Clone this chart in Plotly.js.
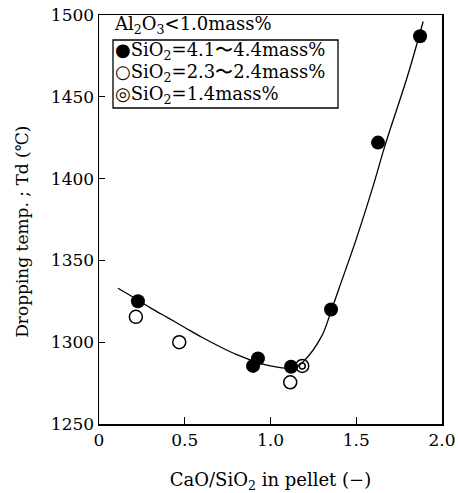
<!DOCTYPE html>
<html>
<head>
<meta charset="utf-8">
<script src="https://cdn.plot.ly/plotly-3.0.1.min.js"></script>
<style>html,body{margin:0;padding:0;background:#fff;}#chart{width:458px;height:493px;}</style>
</head>
<body>
<div id="chart"></div>
<script>
// Data
var highX = [0.227, 0.898, 0.927, 1.12, 1.353, 1.627, 1.872];
var highY = [1325, 1285.5, 1290, 1285, 1320, 1422, 1487];
var midX = [0.215, 0.468, 1.115];
var midY = [1315.5, 1300, 1275.5];
var lowX = [1.185];
var lowY = [1285.5];
var curveX = [0.11, 0.2, 0.3, 0.4, 0.5, 0.6, 0.7, 0.8, 0.9, 1.0, 1.1, 1.15, 1.2, 1.3, 1.35, 1.4, 1.5, 1.6, 1.667, 1.8, 1.89];
var curveY = [1333, 1327.5, 1321, 1315, 1309, 1303, 1297.5, 1292.5, 1288.5, 1285.5, 1284, 1285, 1289, 1304, 1318, 1333, 1363, 1396, 1420, 1463, 1496];
var xTickVals = [0, 0.5, 1.0, 1.5, 2.0];
var xTickText = ["0", "0.5", "1.0", "1.5", "2.0"];
var yTickVals = [1250, 1300, 1350, 1400, 1450, 1500];
var legendTitle = "Al<sub>2</sub>O<sub>3</sub>&lt;1.0mass%";
var legendLabels = ["\u25CFSiO<sub>2</sub>=4.1\u301C4.4mass%", "\u25CBSiO<sub>2</sub>=2.3\u301C2.4mass%", "\u25CESiO<sub>2</sub>=1.4mass%"];

var serif = "DejaVu Serif, Liberation Serif, serif";
var traces = [
  {x: curveX, y: curveY, mode: "lines", line: {color: "#000", width: 1.3, shape: "spline", smoothing: 1}, hoverinfo: "skip"},
  {x: highX, y: highY, mode: "markers", marker: {symbol: "circle", size: 14, color: "#000"}},
  {x: midX, y: midY, mode: "markers", marker: {symbol: "circle-open", size: 13, color: "#000", line: {width: 1.5, color: "#000"}}},
  {x: lowX, y: lowY, mode: "markers", marker: {symbol: "circle-open", size: 13, color: "#000", line: {width: 1.5, color: "#000"}}},
  {x: lowX, y: lowY, mode: "markers", marker: {symbol: "circle-open", size: 6, color: "#000", line: {width: 1.5, color: "#000"}}}
];

var pl = 99, pr = 442, pt = 15, pb = 424;
function px(v){ return (v - pl) / (pr - pl); }
function py(v){ return (pb - v) / (pb - pt); }

var annotations = [
  {xref: "paper", yref: "paper", x: px(112), y: py(25), xanchor: "left", yanchor: "middle", text: legendTitle, showarrow: false, font: {family: serif, size: 18, color: "#000"}},
  {xref: "paper", yref: "paper", x: -0.225, y: py(232), xanchor: "center", yanchor: "middle", textangle: -90, text: "Dropping temp. ; Td (\u2103)", showarrow: false, font: {family: serif, size: 17, color: "#000"}}
];
var rowY = [51, 73, 95];
for (var i = 0; i < legendLabels.length; i++) {
  annotations.push({xref: "paper", yref: "paper", x: px(113), y: py(rowY[i]), xanchor: "left", yanchor: "middle", text: legendLabels[i], showarrow: false, font: {family: serif, size: 18, color: "#000"}});
}

var layout = {
  width: 458, height: 493,
  margin: {l: pl, r: 458 - pr, t: pt, b: 493 - pb},
  paper_bgcolor: "#fff", plot_bgcolor: "#fff",
  showlegend: false,
  font: {family: serif, size: 15, color: "#000"},
  xaxis: {
    range: [0, 2], tickvals: xTickVals, ticktext: xTickText,
    ticks: "inside", ticklen: 7, tickwidth: 1.3, tickcolor: "#000",
    showline: true, linewidth: 1.5, linecolor: "#000", mirror: true,
    showgrid: false, zeroline: false,
    tickfont: {family: serif, size: 17},
    title: {text: "CaO/SiO<sub>2</sub> in pellet (\u2212)", font: {family: serif, size: 18}, standoff: 26}
  },
  yaxis: {
    range: [1250, 1500], tickvals: yTickVals,
    ticks: "inside", ticklen: 6, tickwidth: 1.3, tickcolor: "#000",
    showline: true, linewidth: 1.5, linecolor: "#000", mirror: true,
    showgrid: false, zeroline: false,
    tickfont: {family: serif, size: 17}
  },
  shapes: [
    {type: "rect", xref: "paper", yref: "paper", x0: px(113), x1: px(338), y0: py(108), y1: py(40), line: {color: "#000", width: 1.3}, fillcolor: "rgba(0,0,0,0)"}
  ],
  annotations: annotations
};

Plotly.newPlot("chart", traces, layout, {displayModeBar: false, staticPlot: true});
</script>
</body>
</html>
